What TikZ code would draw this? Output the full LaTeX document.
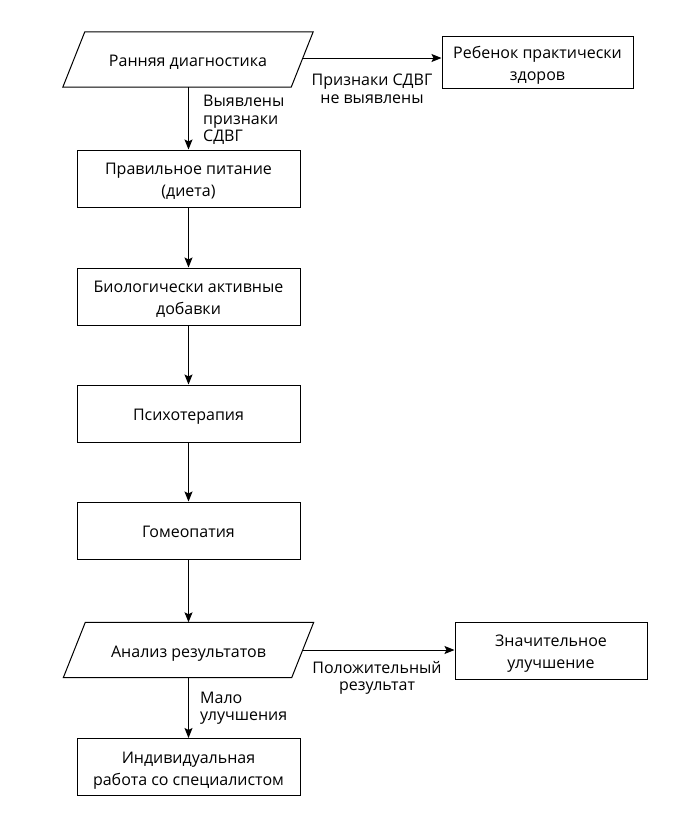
\documentclass[tikz,border=0pt]{standalone}
\usepackage{fontspec}
\setmainfont{Open Sans}
\usetikzlibrary{arrows.meta,calc}
\newcommand\tstr{\rule{0pt}{19pt}}
\newcommand\bstr{\rule[-5pt]{0pt}{5pt}}
\begin{document}
\begin{tikzpicture}[x=1pt,y=-1pt,
  every node/.style={font=\fontsize{16}{22}\selectfont},
  box/.style={draw,line width=1pt,minimum width=223pt,minimum height=57pt,align=center,inner sep=0pt},
  sidebox/.style={draw,line width=1pt,minimum width=191pt,minimum height=52pt,align=center,inner sep=0pt},
  para/.style={minimum width=228pt,minimum height=55pt,inner sep=0pt},
  paraline/.style={line width=1pt},
  lbl/.style={font=\fontsize{16}{17.5}\selectfont,inner sep=0pt},
  arr/.style={line width=1pt,-{Stealth[length=10pt,width=8pt,inset=2pt]}}]
\useasboundingbox (0,0) rectangle (683,831);
\node[para] (p1) at (188,59.5) {\tstr Ранняя диагностика\bstr};
\draw[paraline] ($(p1.north west)+(11,0)$) -- ($(p1.north east)+(11,0)$) -- ($(p1.south east)+(-11,0)$) -- ($(p1.south west)+(-11,0)$) -- cycle;
\node[sidebox] (r1) at (537.5,62) {\tstr Ребенок практически\\здоров\bstr};
\node[box] (b2) at (188.5,178.5) {\tstr Правильное питание\\(диета)\bstr};
\node[box] (b3) at (188.5,296.5) {\tstr Биологически активные\\добавки\bstr};
\node[box] (b4) at (188.5,413.5) {\tstr Психотерапия\bstr};
\node[box] (b5) at (188.5,530.5) {\tstr Гомеопатия\bstr};
\node[para] (p2) at (188.5,650) {\tstr Анализ результатов\bstr};
\draw[paraline] ($(p2.north west)+(11,0)$) -- ($(p2.north east)+(11,0)$) -- ($(p2.south east)+(-11,0)$) -- ($(p2.south west)+(-11,0)$) -- cycle;
\node[sidebox,minimum width=192pt,minimum height=57pt] (r2) at (551,650.5) {\tstr Значительное\\улучшение\bstr};
\node[box] (b6) at (188.5,767) {\tstr Индивидуальная\\работа со специалистом\bstr};
\node[lbl,anchor=west,align=left] (l1) at (203,120) {Выявлены\\признаки\\СДВГ};
\node[lbl,align=center] (l2) at (372,89) {Признаки СДВГ\\не выявлены};
\node[lbl,align=center] (l3) at (377,678) {Положительный\\результат};
\node[lbl,anchor=west,align=left] (l4) at (200,708) {Мало\\улучшения};
\draw[arr] ($(p1.east)+(0,-1.5)$) -- ($(p1.east -| r1.west)+(0,-1.5)$);
\draw[arr] (p1.south -| b2.north) -- (b2.north);
\draw[arr] (b2) -- (b3);
\draw[arr] (b3) -- (b4);
\draw[arr] (b4) -- (b5);
\draw[arr] (b5.south) -- (b5.south |- p2.north);
\draw[arr] (p2.east) -- (p2.east -| r2.west);
\draw[arr] (p2.south -| b6.north) -- (b6.north);
\end{tikzpicture}
\end{document}
